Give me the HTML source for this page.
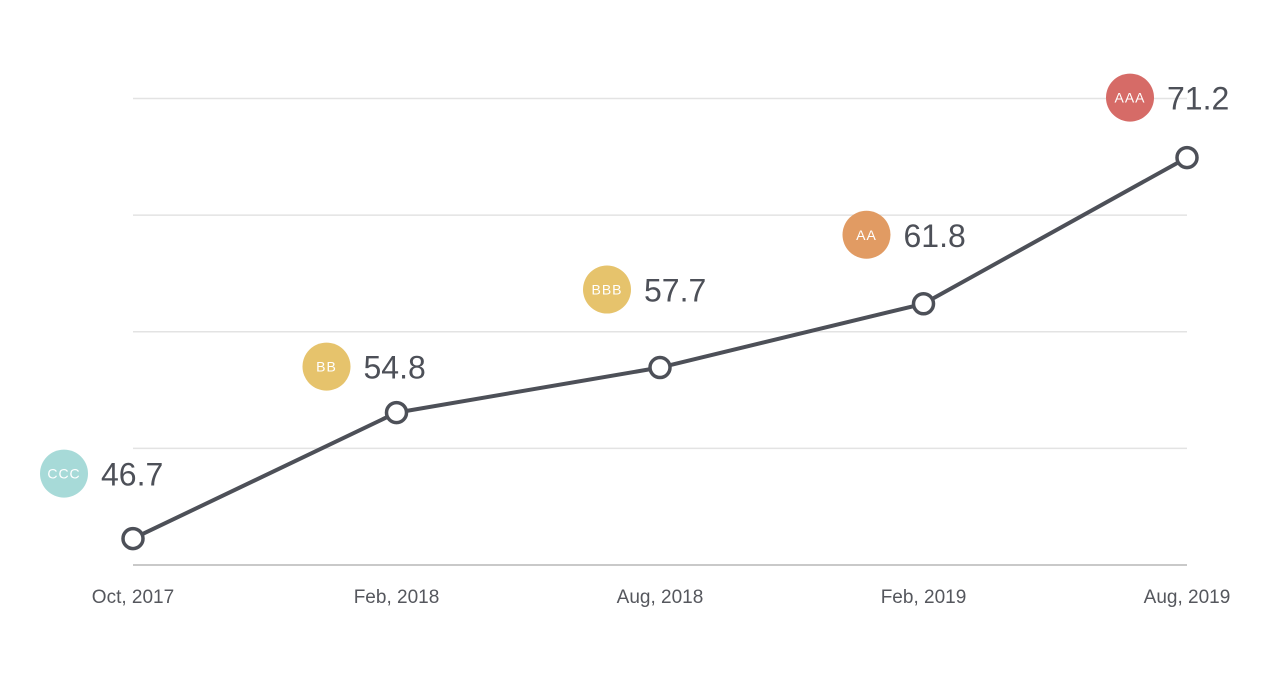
<!DOCTYPE html>
<html><head><meta charset="utf-8"><style>
body{margin:0;background:#fff;width:1280px;height:670px;overflow:hidden}
svg{font-family:"Liberation Sans",sans-serif}
</style></head><body>
<svg id="chart" width="1280" height="670" viewBox="0 0 1280 670"></svg>
<script>
const categories = ["Oct, 2017","Feb, 2018","Aug, 2018","Feb, 2019","Aug, 2019"];
const values = [46.7, 54.8, 57.7, 61.8, 71.2];
const ratings = ["CCC","BB","BBB","AA","AAA"];
const ratingColors = ["#a7dad8","#e6c36c","#e6c36c","#e19b63","#d66b67"];
const gridValues = [45, 52.5, 60, 67.5, 75];
// layout offsets of badge relative to point (pixels)
const badgeDx = [-69,-70,-53,-57,-57];
const badgeDy = [-65,-46,-78,-69,-60];

const NS = "http://www.w3.org/2000/svg";
const svg = document.getElementById("chart");
const x0 = 133, x1 = 1187, yTop = 98.5, yBot = 565, vMin = 45, vMax = 75;
const xs = i => x0 + i*(x1-x0)/(categories.length-1);
const ys = v => yBot - (v - vMin)/(vMax - vMin)*(yBot - yTop);
function mk(tag, attrs, parent){const e=document.createElementNS(NS,tag);for(const k in attrs)e.setAttribute(k,attrs[k]);(parent||svg).appendChild(e);return e;}

gridValues.forEach((g,i)=>{
  const l = mk("line",{x1:x0,x2:x1,y1:ys(g),y2:ys(g),stroke:i===0?"#c9c9c9":"#e3e3e3","stroke-width":i===0?2:1.5});
  
  
});
categories.forEach((c,i)=>{
  const t = mk("text",{x:xs(i),y:603,"text-anchor":"middle","font-size":19,fill:"#55575d"});
  t.textContent = c;
  
  
});
const d = values.map((v,i)=>(i?"L":"M")+xs(i)+" "+ys(v)).join(" ");
const path = mk("path",{d:d,fill:"none",stroke:"#4d5058","stroke-width":4,"stroke-linejoin":"round"});


values.forEach((v,i)=>{
  const px = xs(i), py = ys(v);
  const c = mk("circle",{cx:px,cy:py,r:10,fill:"#fff",stroke:"#4d5058","stroke-width":3.5});
  
  
  const bx = px + badgeDx[i], by = py + badgeDy[i];
  const b = mk("circle",{cx:bx,cy:by,r:24,fill:ratingColors[i]});
  
  
  const bt = mk("text",{x:bx,y:by+5,"text-anchor":"middle","font-size":14,fill:"#fff","letter-spacing":1});
  bt.textContent = ratings[i];
  
  
  const vt = mk("text",{x:bx+37,y:by+12,"font-size":32,fill:"#4d5058"});
  vt.textContent = v.toFixed(1);
  
  
});
</script>
</body></html>
